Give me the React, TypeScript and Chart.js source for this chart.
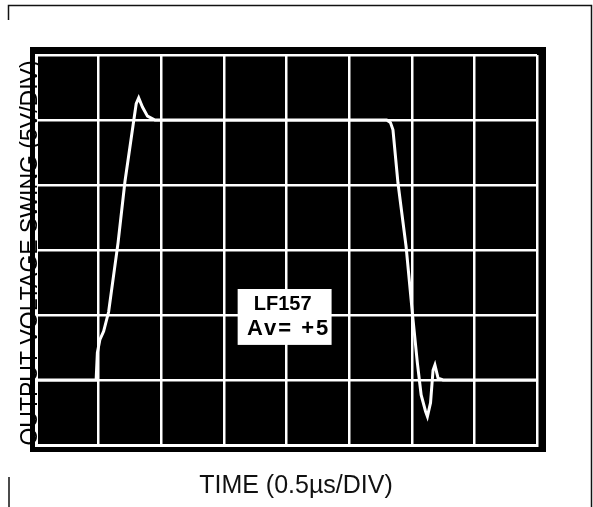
import React, { useEffect, useRef } from "react";
import { Chart, registerables } from "chart.js";

Chart.register(...registerables);

// time in divisions (0.5 µs/DIV), voltage in divisions (5 V/DIV)
const timeDiv = [0, 0.96, 0.98, 1.02, 1.08, 1.16, 1.31, 1.42, 1.55, 1.6, 1.64, 1.7, 1.78, 1.9, 5.6, 5.66, 5.7, 5.78, 5.91, 6.01, 6.09, 6.15, 6.22, 6.25, 6.3, 6.34, 6.37, 6.42, 6.5, 8];
const voltDiv = [1, 1, 1.42, 1.62, 1.75, 2.05, 3.11, 4.05, 4.92, 5.25, 5.34, 5.2, 5.06, 5.0, 5.0, 4.96, 4.85, 4.03, 3.05, 2.03, 1.26, 0.77, 0.52, 0.44, 0.65, 1.15, 1.23, 1.03, 1.0, 1.0];

const xDivisions = 8;
const yDivisions = 6;
const xTitle = "TIME (0.5µs/DIV)";
const yTitle = "OUTPUT VOLTAGE SWING (5V/DIV)";
const labelLines = ["LF157", "Av= +5"];

const scopePlugin = {
  id: "scope",
  beforeDraw(chart: any) {
    const { ctx, chartArea } = chart;
    const { left, top, right, bottom } = chartArea;
    ctx.save();
    ctx.fillStyle = "#ffffff";
    ctx.fillRect(0, 0, chart.width, chart.height);
    // outer frame
    ctx.strokeStyle = "#111";
    ctx.lineWidth = 1.5;
    ctx.beginPath();
    ctx.moveTo(8.5, 20);
    ctx.lineTo(8.5, 5.5);
    ctx.lineTo(591.5, 5.5);
    ctx.lineTo(591.5, chart.height);
    ctx.moveTo(9, 477);
    ctx.lineTo(9, chart.height);
    ctx.stroke();
    // black screen
    ctx.fillStyle = "#000000";
    ctx.fillRect(left - 6, top - 8, right - left + 15, bottom - top + 15);
    ctx.restore();
  },
  afterDraw(chart: any) {
    const { ctx, chartArea } = chart;
    const { left, top, bottom } = chartArea;
    ctx.save();
    // y title (black, mostly lost on the black screen edge)
    ctx.translate(left - 5, (top + bottom) / 2 + 3);
    ctx.rotate(-Math.PI / 2);
    ctx.fillStyle = "#000";
    ctx.font = "23px 'Liberation Sans', Arial, sans-serif";
    ctx.textAlign = "center";
    ctx.textBaseline = "middle";
    ctx.fillText(yTitle, 0, 0);
    ctx.restore();

    // x title
    ctx.save();
    ctx.fillStyle = "#111";
    ctx.font = "25px 'Liberation Sans', Arial, sans-serif";
    ctx.textAlign = "center";
    ctx.textBaseline = "alphabetic";
    ctx.fillText(xTitle, 296, 493);
    ctx.restore();

    // label box
    const xs = chart.scales.x;
    const ys = chart.scales.y;
    const bx0 = xs.getPixelForValue(3.22);
    const bx1 = xs.getPixelForValue(4.72);
    const by0 = ys.getPixelForValue(2.4);
    const by1 = ys.getPixelForValue(1.54);
    ctx.save();
    ctx.fillStyle = "#fff";
    ctx.fillRect(bx0, by0, bx1 - bx0, by1 - by0);
    ctx.beginPath();
    ctx.rect(bx0, by0, bx1 - bx0, by1 - by0);
    ctx.clip();
    ctx.fillStyle = "#000";
    ctx.textAlign = "center";
    ctx.textBaseline = "middle";
    ctx.font = "bold 20px 'Liberation Sans', Arial, sans-serif";
    ctx.fillText(labelLines[0], (bx0 + bx1) / 2 - 2, by0 + 15);
    ctx.font = "bold 22px 'Liberation Sans', Arial, sans-serif";
    (ctx as any).letterSpacing = "2px";
    ctx.fillText(labelLines[1], (bx0 + bx1) / 2 + 4, by0 + 40);
    ctx.restore();
  },
};

export default function App() {
  const ref = useRef<HTMLCanvasElement>(null);
  useEffect(() => {
    if (!ref.current) return;
    const points = timeDiv.map((t, i) => ({ x: t, y: voltDiv[i] }));
    const chart = new Chart(ref.current, {
      type: "line",
      data: {
        datasets: [
          {
            data: points,
            borderColor: "#ffffff",
            borderWidth: 3,
            pointRadius: 0,
            tension: 0,
            fill: false,
          },
        ],
      },
      options: {
        responsive: false,
        animation: false,
        layout: { padding: { left: 36, top: 55, right: 56, bottom: 62 } },
        plugins: { legend: { display: false }, tooltip: { enabled: false } },
        scales: {
          x: {
            type: "linear",
            min: 0,
            max: xDivisions,
            ticks: { display: false, stepSize: 1 },
            grid: { color: "#ffffff", lineWidth: 2.5, drawTicks: false },
            border: { display: true, color: "#ffffff", width: 3 },
          },
          y: {
            type: "linear",
            min: 0,
            max: yDivisions,
            ticks: { display: false, stepSize: 1 },
            grid: { color: "#ffffff", lineWidth: 2.5, drawTicks: false },
            border: { display: true, color: "#ffffff", width: 3 },
          },
        },
      },
      plugins: [scopePlugin],
    });
    return () => chart.destroy();
  }, []);
  return (
    <div style={{ position: "absolute", left: 0, top: 0, width: 593, height: 507, background: "#fff" }}>
      <canvas ref={ref} width={593} height={507} />
    </div>
  );
}
